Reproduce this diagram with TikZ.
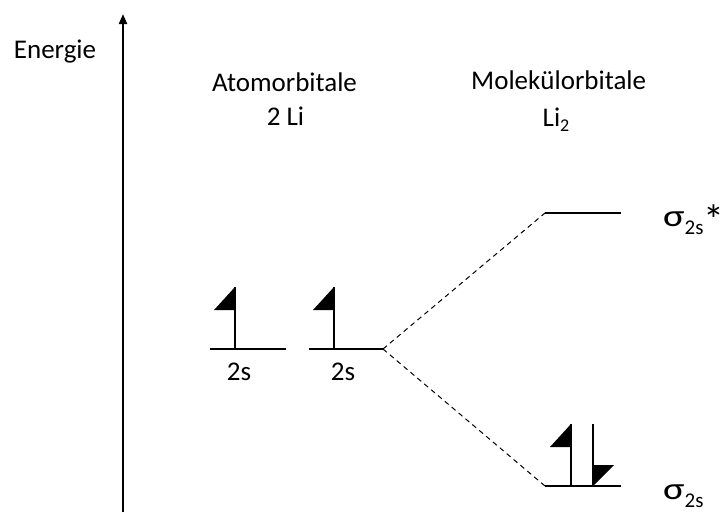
\documentclass[tikz,border=0pt]{standalone}
\usepackage{fontspec}
\usepackage{graphicx}
\setmainfont{Carlito}
\usetikzlibrary{arrows.meta}
\newcommand\sigmalabel[1]{{\fontsize{31}{31}\selectfont\scalebox{1.3}[1]{σ}}\raisebox{-8pt}{\fontsize{21}{21}\selectfont 2s}#1}
\begin{document}
\begin{tikzpicture}[x=1pt,y=-1pt,
  level/.style={line width=1.5pt},
  spinline/.style={line width=1.5pt},
  corr/.style={line width=1pt, dash pattern=on 5pt off 4pt},
  lbl/.style={font=\fontsize{27}{32}\selectfont, inner sep=0pt, anchor=base},
  upspin/.pic={\draw[spinline] (0,0) -- (0,-62); \fill (0,-62) -- (-21,-39) -- (0,-39) -- cycle;},
  downspin/.pic={\draw[spinline] (0,0) -- (0,-62); \fill (0,0) -- (21,-21) -- (0,-21) -- cycle;}]
\useasboundingbox (0,0) rectangle (723,512);
% axis
\coordinate (ab) at (123,512);
\coordinate (at) at (123,14);
\draw[line width=2.2pt,-{Triangle[width=8pt,length=10pt]}] (ab) -- (at);
\node[lbl] (energie) at (55,58) {Energie};
% headings
\node[lbl] (ao) at (284.5,91) {Atomorbitale};
\node[lbl] (aoli) at (285.5,125) {2 Li};
\node[lbl] (mo) at (558.7,89) {Molekülorbitale};
\node[lbl] (moli) at (556,126) {Li\raisebox{-5pt}{\fontsize{18}{18}\selectfont 2}};
% atomic levels
\coordinate (a1l) at (210,349);
\coordinate (a1r) at (286,349);
\coordinate (a2l) at (309,349);
\coordinate (a2r) at (383,349);
\draw[level] (a1l) -- (a1r);
\draw[level] (a2l) -- (a2r);
\pic at (235,349) {upspin};
\pic at (334,349) {upspin};
\node[lbl] (s1) at (239,380) {2s};
\node[lbl] (s2) at (343,380) {2s};
% molecular levels
\coordinate (msl) at (545,213);
\coordinate (msr) at (621,213);
\coordinate (mbl) at (545,486);
\coordinate (mbr) at (621,486);
\draw[level] (msl) -- (msr);
\draw[level] (mbl) -- (mbr);
\pic at (571,486) {upspin};
\pic at (593,486) {downspin};
% correlation lines
\draw[corr] (a2r) -- (msl);
\draw[corr] (a2r) -- (mbl);
% sigma labels
\node[inner sep=0pt, anchor=base west] (sstar) at (663,226) {\sigmalabel{\raisebox{-8pt}{\fontsize{42}{42}\selectfont *}}};
\node[inner sep=0pt, anchor=base west] (sbond) at (663,499) {\sigmalabel{}};
\end{tikzpicture}
\end{document}
